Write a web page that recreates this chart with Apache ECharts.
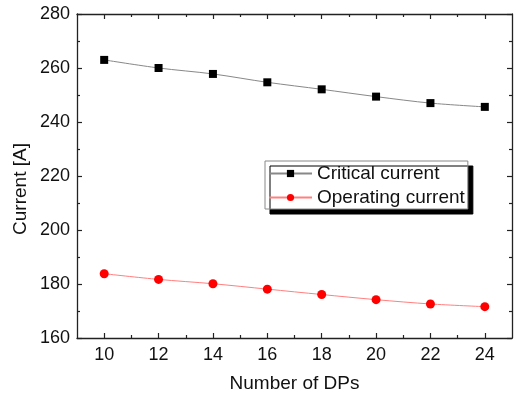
<!DOCTYPE html>
<html>
<head>
<meta charset="utf-8">
<script src="https://cdn.jsdelivr.net/npm/echarts@6/dist/echarts.min.js"></script>
<style>
  html, body { margin: 0; padding: 0; background: #fff; }
  #chart { width: 516px; height: 398px; }
</style>
</head>
<body>
<div id="chart"></div>
<script>
// Number of double pancakes (DPs)
const dpCounts = [10, 12, 14, 16, 18, 20, 22, 24];
// Currents in amperes
const criticalCurrent = [263.0, 260.0, 257.8, 254.7, 252.1, 249.4, 247.0, 245.6];
const operatingCurrent = [183.8, 181.7, 180.1, 178.1, 176.1, 174.2, 172.6, 171.6];
// Axis ticks
const xMajorTicks = [10, 12, 14, 16, 18, 20, 22, 24];
const xMinorTicks = [11, 13, 15, 17, 19, 21, 23];

const FONT = "'Liberation Sans', Arial, sans-serif";
const AXIS_COLOR = '#222';

const chart = echarts.init(document.getElementById('chart'), null, { renderer: 'canvas' });

function pairs(xs, ys) { return xs.map((x, i) => [x, ys[i]]); }

function xAxisDef(position, ticks, len, withLine, withLabels) {
  return {
    type: 'value', position: position, min: 9, max: 25, gridIndex: 0,
    axisLine: { show: withLine, onZero: false, lineStyle: { color: AXIS_COLOR, width: 1.3 } },
    axisTick: { show: true, inside: true, length: len, customValues: ticks,
                lineStyle: { color: AXIS_COLOR, width: 1.2 } },
    axisLabel: { show: withLabels, customValues: ticks, margin: 8,
                 fontSize: 18, fontFamily: FONT, color: '#111' },
    splitLine: { show: false }
  };
}

function yAxisDef(position, withLabels) {
  return {
    type: 'value', position: position, min: 160, max: 280, interval: 20,
    axisLine: { show: true, onZero: false, lineStyle: { color: AXIS_COLOR, width: 1.3 } },
    axisTick: { show: true, inside: true, length: 5, lineStyle: { color: AXIS_COLOR, width: 1.2 } },
    minorTick: { show: true, splitNumber: 2, length: 3, lineStyle: { color: AXIS_COLOR, width: 1.2 } },
    axisLabel: { show: withLabels, margin: 7, fontSize: 18, fontFamily: FONT, color: '#111' },
    splitLine: { show: false },
    minorSplitLine: { show: false }
  };
}

const bottomAxis = xAxisDef('bottom', xMajorTicks, 5, true, true);
bottomAxis.name = 'Number of DPs';
bottomAxis.nameLocation = 'middle';
bottomAxis.nameGap = 36;
bottomAxis.nameTextStyle = { fontSize: 19, fontFamily: FONT, color: '#111' };

chart.setOption({
  animation: false,
  backgroundColor: '#fff',
  grid: { left: 77, right: 4, top: 14, bottom: 60, containLabel: false },
  xAxis: [
    bottomAxis,
    xAxisDef('bottom', xMinorTicks, 3, false, false),
    xAxisDef('top', xMajorTicks, 5, true, false),
    xAxisDef('top', xMinorTicks, 3, false, false)
  ],
  yAxis: [yAxisDef('left', true), yAxisDef('right', false)],
  legend: {
    orient: 'vertical',
    left: 265, top: 161,
    padding: [3, 3, 2, 3],
    itemWidth: 43, itemHeight: 9, itemGap: 5,
    textStyle: { fontSize: 19, fontFamily: FONT, color: '#111' },
    backgroundColor: '#fff',
    borderColor: '#888', borderWidth: 1,
    shadowColor: '#000', shadowBlur: 0, shadowOffsetX: 5, shadowOffsetY: 5,
    data: ['Critical current', 'Operating current']
  },
  graphic: [{
    type: 'text',
    x: 20.5, y: 189,
    rotation: Math.PI / 2,
    style: {
      text: 'Current [A]',
      font: '19px ' + FONT,
      fill: '#111',
      align: 'center',
      verticalAlign: 'middle'
    }
  }],
  series: [
    {
      name: 'Critical current',
      type: 'line',
      xAxisIndex: 0, yAxisIndex: 0,
      data: pairs(dpCounts, criticalCurrent),
      symbol: 'rect', symbolSize: 8,
      smooth: 0.3,
      itemStyle: { color: '#000' },
      lineStyle: { color: '#888', width: 1 }
    },
    {
      name: 'Operating current',
      type: 'line',
      xAxisIndex: 0, yAxisIndex: 0,
      data: pairs(dpCounts, operatingCurrent),
      symbol: 'circle', symbolSize: 9,
      smooth: 0.3,
      itemStyle: { color: '#ff0000' },
      lineStyle: { color: '#ff8080', width: 1 }
    }
  ]
});
</script>
</body>
</html>
